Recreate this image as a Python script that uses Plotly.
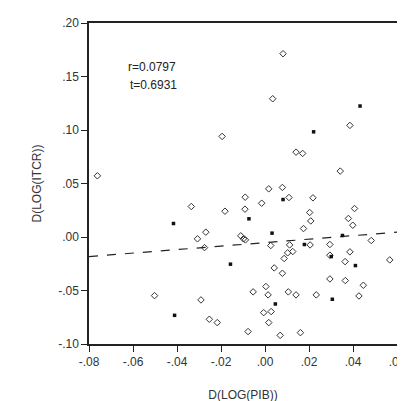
import plotly.graph_objects as go

# Open-diamond observations
open_x = [-0.0762, -0.0195, 0.0082, 0.0035, 0.0386, 0.0141, 0.0171, 0.0342, 0.0017, 0.0079,
          0.0109, 0.0218, -0.0090, -0.0015, -0.0091, -0.0182, -0.0335, 0.0203, 0.0208, 0.0175,
          0.0407, 0.0379, 0.0399, -0.0269, -0.0307, -0.0275, -0.0110, -0.0098, -0.0089, 0.0483,
          0.0026, 0.0112, 0.0205, 0.0295, 0.0103, 0.0126, 0.0087, 0.0295, 0.0386, 0.0364,
          0.0567, 0.0042, 0.0079, 0.0295, 0.0365, 0.0447, 0.0004, -0.0054, 0.0014, 0.0106,
          0.0141, 0.0233, 0.0427, -0.0502, -0.0291, 0.0028, -0.0006, -0.0253, -0.0217, 0.0017,
          -0.0077, 0.0069, 0.0161]
open_y = [0.0572, 0.0940, 0.1713, 0.1292, 0.1043, 0.0793, 0.0781, 0.0616, 0.0450, 0.0463,
          0.0369, 0.0366, 0.0372, 0.0316, 0.0260, 0.0241, 0.0285, 0.0229, 0.0150, 0.0079,
          0.0266, 0.0173, 0.0110, 0.0045, -0.0017, -0.0099, 0.0011, -0.0017, -0.0027, -0.0033,
          -0.0080, -0.0074, -0.0074, -0.0070, -0.0148, -0.0136, -0.0201, -0.0170, -0.0139, -0.0230,
          -0.0214, -0.0289, -0.0339, -0.0392, -0.0407, -0.0451, -0.0463, -0.0513, -0.0541, -0.0513,
          -0.0541, -0.0541, -0.0551, -0.0548, -0.0588, -0.0697, -0.0707, -0.0769, -0.0800, -0.0800,
          -0.0884, -0.0919, -0.0894]

# Filled-square observations
fill_x = [0.0432, 0.0221, 0.0082, -0.0073, -0.0416, 0.0032, 0.0352, 0.0179, 0.0301, 0.0411,
          -0.0157, 0.0306, 0.0047, -0.0411]
fill_y = [0.1224, 0.0983, 0.0350, 0.0170, 0.0126, 0.0036, 0.0014, -0.0070, -0.0183, -0.0267,
          -0.0254, -0.0582, -0.0626, -0.0732]

# Fitted regression line endpoints
fit_x = [-0.08, 0.06]
fit_y = [-0.0183, 0.0045]

x_ticks = [-0.08, -0.06, -0.04, -0.02, 0.00, 0.02, 0.04, 0.06]
x_tick_text = ["-.08", "-.06", "-.04", "-.02", ".00", ".02", ".04", ".06"]
y_ticks = [-0.10, -0.05, 0.00, 0.05, 0.10, 0.15, 0.20]
y_tick_text = ["-.10", "-.05", ".00", ".05", ".10", ".15", ".20"]

FONT = "Liberation Sans, Arial, sans-serif"

fig = go.Figure()
fig.add_trace(go.Scatter(x=fit_x, y=fit_y, mode="lines",
                         line=dict(color="#222222", width=1.2, dash="dash"),
                         hoverinfo="skip", showlegend=False))
fig.add_trace(go.Scatter(x=open_x, y=open_y, mode="markers",
                         marker=dict(symbol="diamond-open", size=5, color="#333333",
                                     line=dict(color="#333333", width=1)),
                         showlegend=False))
fig.add_trace(go.Scatter(x=fill_x, y=fill_y, mode="markers",
                         marker=dict(symbol="square", size=3.5, color="#111111",
                                     line=dict(width=0)),
                         showlegend=False))

axis_common = dict(showgrid=False, zeroline=False, showline=True, linecolor="#222222",
                   linewidth=1.5, mirror=True, ticks="outside", ticklen=6,
                   tickwidth=1.2, tickcolor="#222222",
                   tickfont=dict(family=FONT, size=12, color="#333333"))

fig.update_xaxes(range=[-0.08, 0.06], tickvals=x_ticks, ticktext=x_tick_text,
                 title=dict(text="D(LOG(PIB))", font=dict(family=FONT, size=12, color="#333333"),
                            standoff=22),
                 **axis_common)
fig.update_yaxes(range=[-0.10, 0.20], tickvals=y_ticks, ticktext=y_tick_text,
                 title=dict(text="D(LOG(ITCR))", font=dict(family=FONT, size=12, color="#333333"),
                            standoff=14),
                 **axis_common)

fig.add_annotation(x=-0.0632, y=0.1588, text="r=0.0797", showarrow=False, xanchor="left",
                   font=dict(family=FONT, size=12, color="#222222"))
fig.add_annotation(x=-0.0625, y=0.1420, text="t=0.6931", showarrow=False, xanchor="left",
                   font=dict(family=FONT, size=12, color="#222222"))

fig.update_layout(width=405, height=401,
                  margin=dict(l=81, r=7, t=15, b=65),
                  paper_bgcolor="white", plot_bgcolor="white")

fig.write_html("out.html")
